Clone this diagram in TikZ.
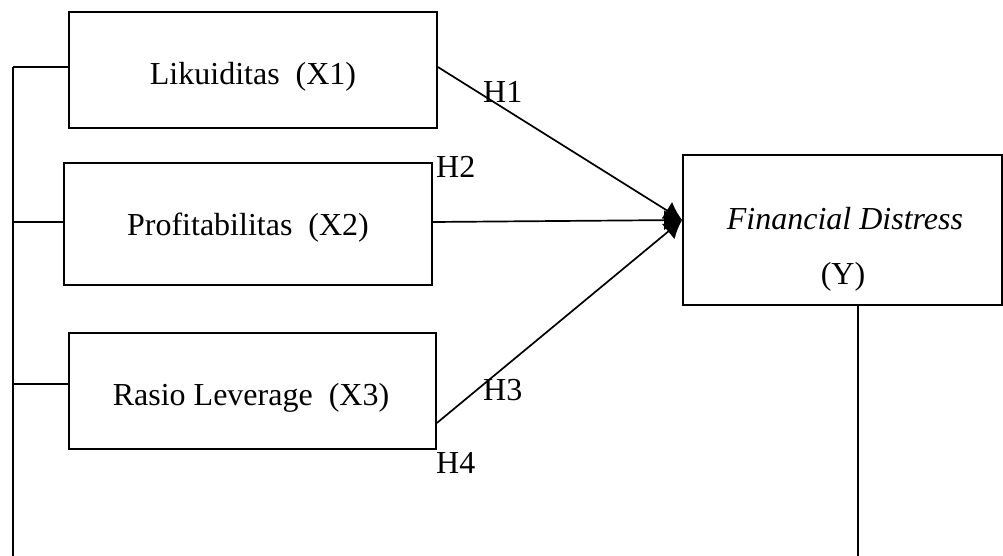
\documentclass[tikz,border=0pt]{standalone}
\usepackage{fontspec}
\setmainfont{Liberation Serif}
\usetikzlibrary{arrows.meta}
\begin{document}
\begin{tikzpicture}[x=1pt,y=-1pt,
  box/.style={draw,line width=1.7pt,inner sep=0pt},
  lbl/.style={inner sep=0pt,anchor=base,font=\fontsize{32}{38}\selectfont},
  hlbl/.style={inner sep=0pt,anchor=base west,font=\fontsize{32}{38}\selectfont},
  ln/.style={line width=1.7pt},
  arr/.style={line width=1.7pt,-{Latex[length=18pt,width=20pt]}}]
\useasboundingbox (0,0) rectangle (1003,556);
% boxes
\node[box,minimum width=368pt,minimum height=116pt] (x1) at (253,70) {};
\node[box,minimum width=368pt,minimum height=122pt] (x2) at (248,224) {};
\node[box,minimum width=367pt,minimum height=116pt] (x3) at (252.5,391) {};
\node[box,minimum width=319pt,minimum height=150pt] (y) at (842.5,230) {};
% texts
\node[lbl] (t1) at (253,85) {Likuiditas\ \ (X1)};
\node[lbl] (t2) at (248,235) {Profitabilitas\ \ (X2)};
\node[lbl] (t3) at (251,405) {Rasio Leverage\ \ (X3)};
\node[lbl] (ty1) at (845,229) {\itshape Financial Distress};
\node[lbl] (ty2) at (843,284) {(Y)};
% hypothesis labels
\node[hlbl] (h1) at (483,103) {H1};
\node[hlbl] (h2) at (436,178) {H2};
\node[hlbl] (h3) at (483,400) {H3};
\node[hlbl] (h4) at (436,473) {H4};
% left bracket
\coordinate (b1) at (13,67);
\coordinate (b2) at (13,222);
\coordinate (b3) at (13,384);
\coordinate (bb) at (13,556);
\draw[ln] (b1) -- (bb);
\draw[ln] (b1) -- (b1 -| x1.west);
\draw[ln] (b2) -- (b2 -| x2.west);
\draw[ln] (b3) -- (b3 -| x3.west);
% right vertical
\coordinate (yb) at (858,556);
\draw[ln] (yb |- y.south) -- (yb);
% arrows
\coordinate (tip) at ([yshift=10pt]y.west);
\draw[arr] ([yshift=3pt]x1.east) -- (tip);
\draw[arr] ([yshift=2pt]x2.east) -- (tip);
\draw[arr] ([yshift=-32pt]x3.east) -- (tip);
\end{tikzpicture}
\end{document}
